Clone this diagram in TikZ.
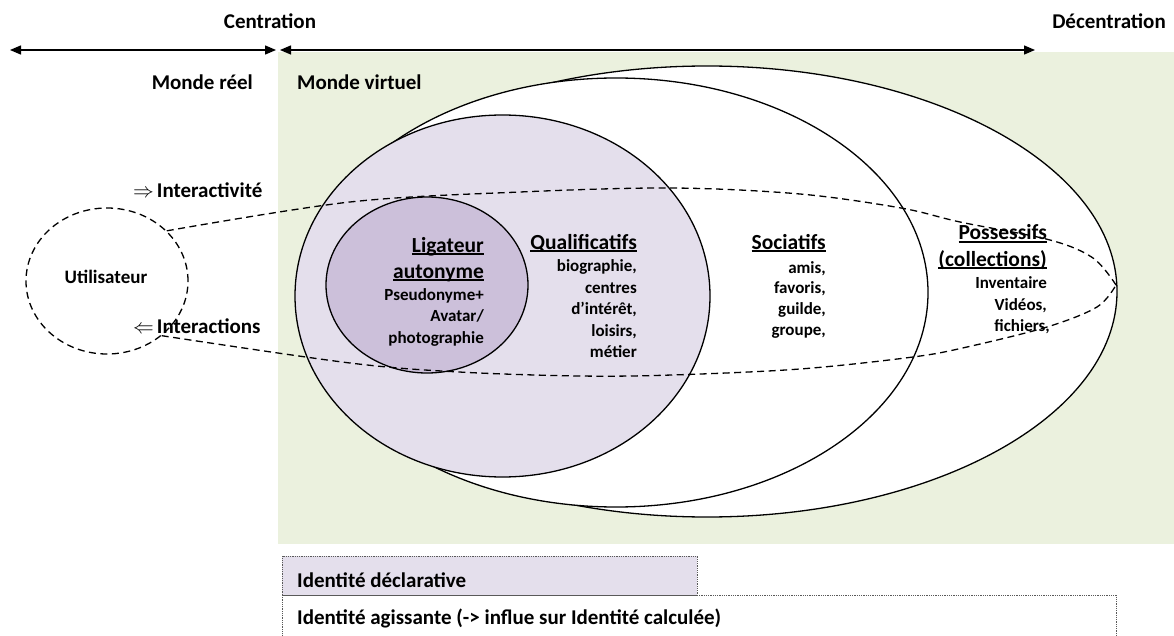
\documentclass[tikz,border=0pt]{standalone}
\usepackage{fontspec}
\setmainfont{Carlito}
\usetikzlibrary{shapes.geometric,arrows.meta}
\definecolor{vgreen}{HTML}{EBF1DE}
\definecolor{lpurple}{HTML}{E4DFEC}
\definecolor{dpurple}{HTML}{CCC0DA}
\newcommand{\ulword}[1]{\setbox0=\hbox{#1}\rlap{\rule[-2.6pt]{\wd0}{1.3pt}}\box0}
\begin{document}
\begin{tikzpicture}[x=1pt,y=-1pt,
  oval/.style={ellipse, draw=black, line width=1.3pt, inner sep=0pt, outer sep=0pt},
  lbl/.style={font=\bfseries\fontsize{21}{25}\selectfont, inner sep=0pt},
  body/.style={font=\bfseries\fontsize{17}{21}\selectfont, inner sep=0pt, anchor=base east},
  head/.style={font=\bfseries\fontsize{21.5}{25}\selectfont, inner sep=0pt, anchor=base east},
  dsh/.style={line width=1.3pt, dash pattern=on 7pt off 4.5pt},
  dotbox/.style={draw=black!65, line width=0.9pt, dash pattern=on 0.9pt off 0.9pt, inner sep=0pt, outer sep=0pt, anchor=north west},
  dbl/.style={line width=1.3pt, {Triangle[length=11pt,width=9pt]}-{Triangle[length=11pt,width=9pt]}},
]
\useasboundingbox (0,0) rectangle (1174,636);
\clip (0,0) rectangle (1174,636);
\fill[white] (0,0) rectangle (1174,636);
% virtual world background
\fill[vgreen] (278,52) rectangle (1174,544);
% top axis
\coordinate (aL) at (10,50);
\coordinate (aM1) at (276,50);
\coordinate (aM2) at (280,50);
\coordinate (aR) at (1035,50);
\draw[dbl] (aL) -- (aM1);
\draw[dbl] (aM2) -- (aR);
\node[lbl, anchor=base] (cen) at (270,29) {Centration};
\node[lbl, anchor=base east] (dec) at (1166,29) {Décentration};
\node[lbl, anchor=base east] (mr) at (253,90) {Monde réel};
\node[lbl, anchor=base west] (mv) at (297,90) {Monde virtuel};
% ellipses
\node[oval, fill=white, minimum width=820pt, minimum height=451pt] (E3) at (707,291.5) {};
\node[oval, fill=white, minimum width=624pt, minimum height=429pt] (E2) at (616,292.5) {};
\node[oval, fill=lpurple, minimum width=415pt, minimum height=362pt] (E1) at (502.5,296) {};
\node[oval, fill=dpurple, minimum width=202pt, minimum height=176pt] (E0) at (427,285) {};
% user
\node[ellipse, draw, dsh, inner sep=0pt, minimum width=162pt, minimum height=146pt] (U) at (107,281) {};
\node[font=\bfseries\fontsize{19}{23}\selectfont, inner sep=0pt] (Ut) at (106,277) {Utilisateur};
\coordinate (uA) at (U.40);
\coordinate (uB) at (U.-45);
\coordinate (tipR) at (1116,285);
\draw[dsh] plot[smooth, tension=0.55] coordinates {(uA) (350,202) (520,192) (672,188) (800,194) (901,208) (960,222) (1050,240) (1093,258) (tipR)};
\draw[dsh] plot[smooth, tension=0.55] coordinates {(uB) (350,363) (459,372) (580,376) (672,375) (800,369) (913,357) (967,347) (1047,327) (1097,307) (tipR)};
\node[lbl, anchor=base west] (iv) at (133,198) {$\Rightarrow$\hspace{3pt}Interactivité};
\node[lbl, anchor=base west] (ia) at (133,333) {$\Leftarrow$\hspace{3pt}Interactions};
% Ligateur
\node[head] (l1) at (484,252) {\ulword{Ligateur}};
\node[head] (l2) at (484,278) {\ulword{autonyme}};
\node[body] (l3) at (484,300) {Pseudonyme+};
\node[body] (l4) at (484,321) {Avatar/};
\node[body] (l5) at (484,343) {photographie};
% Qualificatifs
\node[head] (q1) at (637,249) {\ulword{Qualificatifs}};
\node[body] (q2) at (637,271) {biographie,};
\node[body] (q3) at (637,293) {centres};
\node[body] (q4) at (637,314) {d’intérêt,};
\node[body] (q5) at (637,336) {loisirs,};
\node[body] (q6) at (637,357) {métier};
% Sociatifs
\node[head] (s1) at (826,249) {\ulword{Sociatifs}};
\node[body] (s2) at (826,273) {amis,};
\node[body] (s3) at (826,293) {favoris,};
\node[body] (s4) at (826,314) {guilde,};
\node[body] (s5) at (826,335) {groupe,};
% Possessifs
\node[head] (p1) at (1047,240) {\ulword{Possessifs}};
\node[head] (p2) at (1047,266) {\ulword{(collections)}};
\node[body] (p3) at (1047,288) {Inventaire};
\node[body] (p4) at (1047,310) {Vidéos,};
\node[body] (p5) at (1050,331) {fichiers,};
% identity boxes
\node[dotbox, minimum width=834pt, minimum height=60pt] (B2) at (282,595) {};
\node[dotbox, fill=lpurple, minimum width=415pt, minimum height=39pt] (B1) at (282,556) {};
\node[lbl, anchor=base west] (t1) at (297,587) {Identité déclarative};
\node[lbl, anchor=base west] (t2) at (297,624) {Identité agissante (-> influe sur Identité calculée)};
\end{tikzpicture}
\end{document}
